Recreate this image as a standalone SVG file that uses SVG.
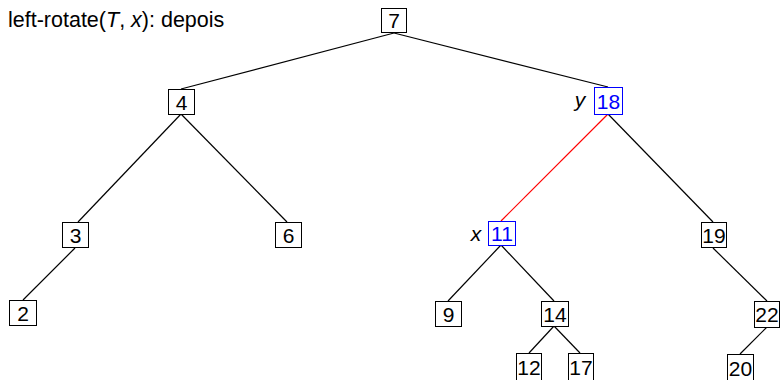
<svg xmlns="http://www.w3.org/2000/svg" width="781" height="380" viewBox="0 0 781 380">
  <style>
    .box { fill: #fff; stroke: #000; stroke-width: 1; }
    .hl { fill: #fff; stroke: #00f; stroke-width: 1; }
    .lbl { font-family: "Liberation Sans", Arial, sans-serif; font-size: 21px; fill: #000; text-anchor: middle; }
    .lblb { font-family: "Liberation Sans", Arial, sans-serif; font-size: 21px; fill: #00f; text-anchor: middle; }
    .title { font-family: "Liberation Sans", Arial, sans-serif; font-size: 21.5px; fill: #000; }
    .it { font-style: italic; }
    .edge { stroke: #000; stroke-width: 1.2; fill: none; }
    .red { stroke: #f00; stroke-width: 1.2; fill: none; }
  </style>
  <rect width="781" height="380" fill="#fff"/>

  <text class="title" x="8" y="27">left-rotate(<tspan class="it">T</tspan>, <tspan class="it">x</tspan>): depois</text>

  <!-- tree edges: parent bottom centre to child top centre -->
  <g id="edges">
    <line class="edge" x1="394" y1="33" x2="181" y2="89"/>
    <line class="edge" x1="394" y1="33" x2="608" y2="87"/>
    <line class="edge" x1="181" y1="114" x2="78" y2="222"/>
    <line class="edge" x1="181" y1="114" x2="287" y2="222"/>
    <line class="red" x1="608" y1="114" x2="501" y2="221"/>
    <line class="edge" x1="608" y1="114" x2="713" y2="222"/>
    <line class="edge" x1="75" y1="248" x2="23" y2="300"/>
    <line class="edge" x1="501" y1="245" x2="448" y2="301"/>
    <line class="edge" x1="501" y1="245" x2="554" y2="301"/>
    <line class="edge" x1="713" y1="248" x2="767" y2="301"/>
    <line class="edge" x1="554" y1="326" x2="529" y2="353"/>
    <line class="edge" x1="554" y1="326" x2="580" y2="353"/>
    <line class="edge" x1="767" y1="327" x2="740" y2="354"/>
  </g>

  <g id="n7"><rect class="box" x="381.5" y="8.5" width="25" height="24"/><text class="lbl" x="394" y="28">7</text></g>
  <g id="n4"><rect class="box" x="168.5" y="89.5" width="26" height="25"/><text class="lbl" x="181.5" y="109.5">4</text></g>
  <g id="n18"><text class="lbl it" x="580" y="107">y</text><rect class="hl" x="594.5" y="87.5" width="28" height="27"/><text class="lblb" x="608.5" y="109">18</text></g>
  <g id="n3"><rect class="box" x="62.5" y="222.5" width="26" height="25"/><text class="lbl" x="75.5" y="243">3</text></g>
  <g id="n6"><rect class="box" x="275.5" y="222.5" width="26" height="25"/><text class="lbl" x="288.5" y="243">6</text></g>
  <g id="n11"><text class="lbl it" x="476" y="241">x</text><rect class="hl" x="488.5" y="221.5" width="27" height="24"/><text class="lblb" x="502" y="241">11</text></g>
  <g id="n19"><rect class="box" x="701.5" y="222.5" width="25" height="25"/><text class="lbl" x="714" y="243">19</text></g>
  <g id="n2"><rect class="box" x="9.5" y="300.5" width="27" height="25"/><text class="lbl" x="23" y="321">2</text></g>
  <g id="n9"><rect class="box" x="435.5" y="301.5" width="26" height="25"/><text class="lbl" x="448.5" y="322">9</text></g>
  <g id="n14"><rect class="box" x="541.5" y="301.5" width="27" height="25"/><text class="lbl" x="555" y="322">14</text></g>
  <g id="n22"><rect class="box" x="754.5" y="301.5" width="25" height="26"/><text class="lbl" x="767" y="322">22</text></g>
  <g id="n12"><rect class="box" x="516.5" y="353.5" width="25" height="30"/><text class="lbl" x="529" y="375">12</text></g>
  <g id="n17"><rect class="box" x="568.5" y="353.5" width="25" height="30"/><text class="lbl" x="581" y="375">17</text></g>
  <g id="n20"><rect class="box" x="727.5" y="354.5" width="26" height="30"/><text class="lbl" x="740.5" y="376">20</text></g>
</svg>
